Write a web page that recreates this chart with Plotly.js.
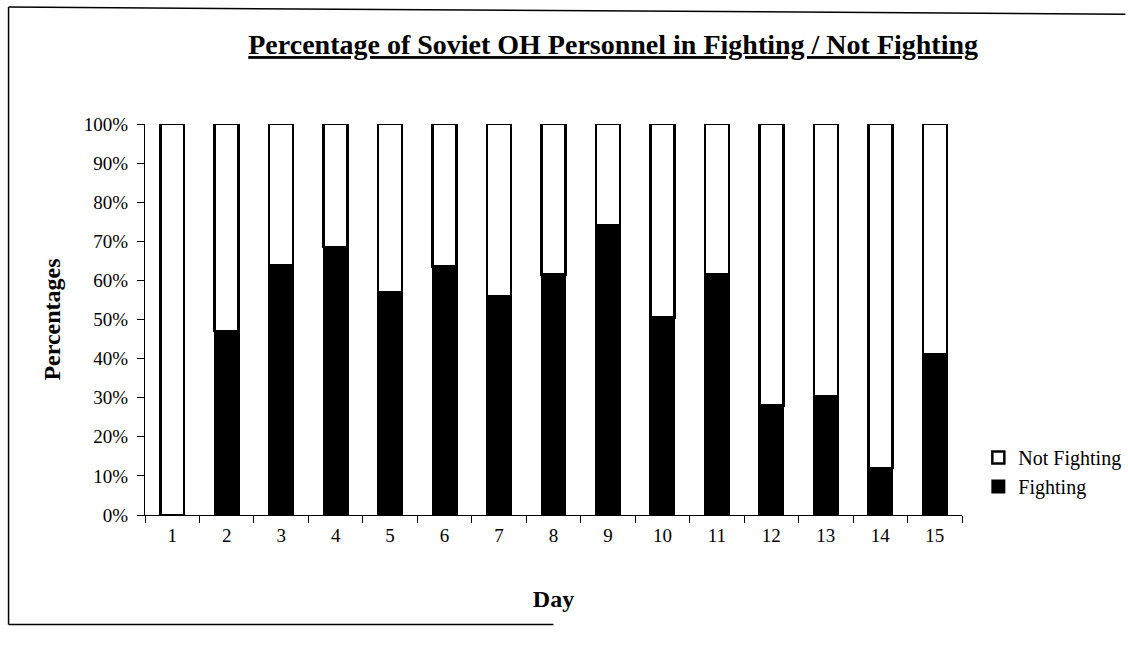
<!DOCTYPE html>
<html>
<head>
<meta charset="utf-8">
<script src="https://cdn.plot.ly/plotly-3.0.1.min.js"></script>
<style>
html,body{margin:0;padding:0;background:#fff;}
#chart{width:1128px;height:651px;}
</style>
</head>
<body>
<div id="chart"></div>
<script>
var days = ["1","2","3","4","5","6","7","8","9","10","11","12","13","14","15"];
var fighting    = [0, 47, 64, 68.5, 57, 63.5, 56, 61.5, 74, 50.5, 61.5, 28, 30.5, 12, 41];
var notFighting = [100, 53, 36, 31.5, 43, 36.5, 44, 38.5, 26, 49.5, 38.5, 72, 69.5, 88, 59];
var yTickVals = [0, 10, 20, 30, 40, 50, 60, 70, 80, 90, 100];
var yTickText = ["0%","10%","20%","30%","40%","50%","60%","70%","80%","90%","100%"];

var serif = "Liberation Serif, Times New Roman, serif";

var traces = [
  {
    type: "bar", name: "Fighting", x: days, y: fighting,
    marker: {color: "#000000", line: {color: "#000000", width: 2}}
  },
  {
    type: "bar", name: "Not Fighting", x: days, y: notFighting,
    marker: {color: "#ffffff", line: {color: "#000000", width: 2.5}}
  }
];

var layout = {
  width: 1128, height: 651,
  paper_bgcolor: "#ffffff", plot_bgcolor: "#ffffff",
  margin: {l: 145, r: 166, t: 124, b: 136, autoexpand: false},
  barmode: "stack",
  bargap: 0.56,
  font: {family: serif, color: "#000000", size: 19},
  title: {
    text: "<b><u>Percentage of Soviet OH Personnel in Fighting / Not Fighting</u></b>",
    font: {family: serif, size: 28, color: "#000000"},
    x: 0.573, xref: "paper", xanchor: "center",
    y: 0.932, yref: "container", yanchor: "middle"
  },
  xaxis: {
    type: "category",
    showline: true, linecolor: "#000000", linewidth: 1,
    ticks: "outside", tickson: "boundaries", ticklen: 7, tickcolor: "#000000", tickwidth: 1,
    ticklabelstandoff: 3,
    showgrid: false, zeroline: false,
    tickfont: {family: serif, size: 19, color: "#000000"},
    title: {text: "<b>Day</b>", font: {family: serif, size: 24, color: "#000000"}, standoff: 45}
  },
  yaxis: {
    range: [0, 100],
    tickvals: yTickVals, ticktext: yTickText,
    showline: true, linecolor: "#000000", linewidth: 1,
    ticks: "outside", ticklen: 7, tickcolor: "#000000", tickwidth: 1,
    ticklabelstandoff: 5,
    showgrid: false, zeroline: false,
    tickfont: {family: serif, size: 19, color: "#000000"},
    title: {text: "<b>Percentages</b>", font: {family: serif, size: 24, color: "#000000"}, standoff: 16}
  },
  legend: {
    x: 1.02, xanchor: "left", y: 0.11, yanchor: "middle",
    traceorder: "reversed",
    font: {family: serif, size: 20, color: "#000000"},
    bgcolor: "rgba(0,0,0,0)", itemwidth: 30, tracegroupgap: 0
  },
  shapes: [
    {type: "line", xref: "paper", yref: "paper", x0: -0.167, x1: 1.2, y0: 1.299, y1: 1.281, line: {color: "#000", width: 1.5}},
    {type: "line", xref: "paper", yref: "paper", x0: -0.167, x1: -0.167, y0: 1.299, y1: -0.28, line: {color: "#000", width: 1.5}},
    {type: "line", xref: "paper", yref: "paper", x0: -0.167, x1: 0.5, y0: -0.28, y1: -0.28, line: {color: "#000", width: 1.5}}
  ]
};

Plotly.newPlot("chart", traces, layout, {displayModeBar: false, staticPlot: true});
</script>
</body>
</html>
